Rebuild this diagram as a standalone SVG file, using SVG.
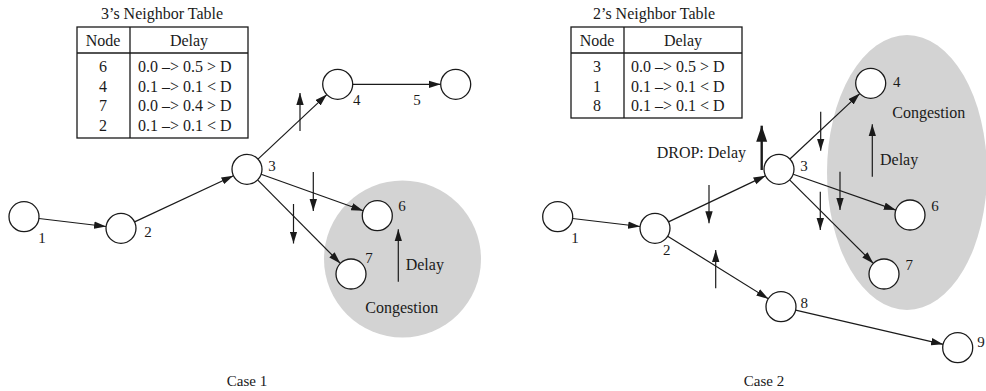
<svg xmlns="http://www.w3.org/2000/svg" width="986" height="391" viewBox="0 0 986 391">
<style>
text{font-family:"Liberation Serif","Times New Roman",serif;font-size:16px;fill:#1a1a1a}
.lbl{font-size:15px}
.mid{text-anchor:middle}
.node{fill:#fff;stroke:#1a1a1a;stroke-width:1.3}
.edge{stroke:#1a1a1a;stroke-width:1.2;fill:none;marker-end:url(#ah)}
.tbl{fill:#fff;stroke:#1a1a1a;stroke-width:1.3}
.tl{stroke:#1a1a1a;stroke-width:1.3}
.zone{fill:#d3d3d3}
.thick{stroke:#1a1a1a;stroke-width:2.4;fill:none;marker-end:url(#ahb)}
</style>
<defs>
<marker id="ah" markerUnits="userSpaceOnUse" markerWidth="13" markerHeight="8" refX="12" refY="4" orient="auto" viewBox="0 0 13 8">
<path d="M0,0.3 L12,4 L0,7.7 z" fill="#1a1a1a"/>
</marker>
<marker id="ahb" markerUnits="userSpaceOnUse" markerWidth="17" markerHeight="12" refX="16" refY="6" orient="auto" viewBox="0 0 17 12">
<path d="M0,0.5 L16,6 L0,11.5 z" fill="#1a1a1a"/>
</marker>
</defs>

<!-- congestion zones -->
<circle class="zone" cx="402.5" cy="259" r="78.5"/>
<ellipse class="zone" cx="907" cy="172.5" rx="80" ry="137.5"/>

<!-- Case 1 table -->
<g id="table1">
<text class="mid" x="162" y="19">3’s Neighbor Table</text>
<rect class="tbl" x="77" y="27" width="171" height="111"/>
<line class="tl" x1="130" y1="27" x2="130" y2="138"/>
<line class="tl" x1="77" y1="53" x2="248" y2="53"/>
<text class="mid" x="103" y="46">Node</text>
<text class="mid" x="189" y="46">Delay</text>
<text class="mid" x="103" y="72">6</text>
<text class="mid" x="103" y="92">4</text>
<text class="mid" x="103" y="111">7</text>
<text class="mid" x="103" y="131">2</text>
<text x="138" y="72">0.0 –&gt; 0.5 &gt; D</text>
<text x="138" y="92">0.1 –&gt; 0.1 &lt; D</text>
<text x="138" y="111">0.0 –&gt; 0.4 &gt; D</text>
<text x="138" y="131">0.1 –&gt; 0.1 &lt; D</text>
</g>

<!-- Case 2 table -->
<g id="table2">
<text class="mid" x="654" y="19">2’s Neighbor Table</text>
<rect class="tbl" x="571" y="27" width="171" height="91"/>
<line class="tl" x1="624" y1="27" x2="624" y2="118"/>
<line class="tl" x1="571" y1="53" x2="742" y2="53"/>
<text class="mid" x="597" y="46">Node</text>
<text class="mid" x="683" y="46">Delay</text>
<text class="mid" x="597" y="72">3</text>
<text class="mid" x="597" y="92">1</text>
<text class="mid" x="597" y="111">8</text>
<text x="631" y="72">0.0 –&gt; 0.5 &gt; D</text>
<text x="631" y="92">0.1 –&gt; 0.1 &lt; D</text>
<text x="631" y="111">0.1 –&gt; 0.1 &lt; D</text>
</g>

<!-- connectors -->
<g id="connectors">
<!-- case 1 -->
<line class="edge" x1="38.9" y1="218.5" x2="106.1" y2="226.5"/>
<line class="edge" x1="134.6" y1="221.9" x2="233.4" y2="175.7"/>
<line class="edge" x1="258" y1="159.1" x2="326.8" y2="94.6"/>
<line class="edge" x1="352.7" y1="84.3" x2="440.7" y2="84.3"/>
<line class="edge" x1="261.1" y1="174.3" x2="363.2" y2="210.7"/>
<line class="edge" x1="257.6" y1="179.9" x2="340.4" y2="263.4"/>
<line class="edge" x1="300" y1="131" x2="300" y2="93"/>
<line class="edge" x1="313.3" y1="172" x2="313.3" y2="211"/>
<line class="edge" x1="293.5" y1="204" x2="293.5" y2="243.5"/>
<line class="edge" x1="398.3" y1="281.7" x2="398.3" y2="229.3"/>
<!-- case 2 -->
<line class="edge" x1="572.6" y1="218.5" x2="640.1" y2="226.5"/>
<line class="edge" x1="668.5" y1="221.9" x2="765.5" y2="175.8"/>
<line class="edge" x1="667.7" y1="236.2" x2="768.3" y2="298.8"/>
<line class="edge" x1="795.6" y1="310.1" x2="943.1" y2="344.3"/>
<line class="edge" x1="789.9" y1="159" x2="859.8" y2="93.6"/>
<line class="edge" x1="793.2" y1="174.2" x2="895.8" y2="210.1"/>
<line class="edge" x1="789.6" y1="179.9" x2="873.4" y2="263.4"/>
<line class="edge" x1="709" y1="185" x2="709" y2="223.3"/>
<line class="edge" x1="715.7" y1="288.3" x2="715.7" y2="250"/>
<line class="edge" x1="820.7" y1="111.7" x2="820.7" y2="150.7"/>
<line class="edge" x1="820.3" y1="191.7" x2="820.3" y2="230"/>
<line class="edge" x1="840" y1="171.7" x2="840" y2="210"/>
<line class="edge" x1="872.3" y1="176.7" x2="872.3" y2="124.3"/>
<line class="thick" x1="761.7" y1="170" x2="761.7" y2="125.7"/>
</g>

<!-- Case 1 nodes -->
<g id="c1n1"><circle class="node" cx="24" cy="216.7" r="15"/><text class="lbl mid" x="42" y="243">1</text></g>
<g id="c1n2"><circle class="node" cx="121" cy="228.3" r="15"/><text class="lbl mid" x="148" y="237">2</text></g>
<g id="c1n3"><circle class="node" cx="247" cy="169.3" r="15"/><text class="lbl mid" x="272" y="171">3</text></g>
<g id="c1n4"><circle class="node" cx="337.7" cy="84.3" r="15"/><text class="lbl mid" x="356.7" y="105">4</text></g>
<g id="c1n5"><circle class="node" cx="455.7" cy="84.3" r="15"/><text class="lbl mid" x="417" y="105">5</text></g>
<g id="c1n6"><circle class="node" cx="377.3" cy="215.7" r="15"/><text class="lbl mid" x="402" y="210.7">6</text></g>
<g id="c1n7"><circle class="node" cx="351" cy="274" r="15"/><text class="lbl mid" x="369" y="263">7</text></g>

<!-- Case 2 nodes -->
<g id="c2n1"><circle class="node" cx="557.7" cy="216.7" r="15"/><text class="lbl mid" x="575" y="243">1</text></g>
<g id="c2n2"><circle class="node" cx="655" cy="228.3" r="15"/><text class="lbl mid" x="666.7" y="255">2</text></g>
<g id="c2n3"><circle class="node" cx="779" cy="169.3" r="15"/><text class="lbl mid" x="804" y="171">3</text></g>
<g id="c2n4"><circle class="node" cx="870.7" cy="83.3" r="15"/><text class="lbl mid" x="896.7" y="87">4</text></g>
<g id="c2n6"><circle class="node" cx="910" cy="215" r="15"/><text class="lbl mid" x="935" y="210.7">6</text></g>
<g id="c2n7"><circle class="node" cx="884" cy="274" r="15"/><text class="lbl mid" x="909.3" y="270">7</text></g>
<g id="c2n8"><circle class="node" cx="781" cy="306.7" r="15"/><text class="lbl mid" x="804.3" y="308">8</text></g>
<g id="c2n9"><circle class="node" cx="957.7" cy="347.7" r="15"/><text class="lbl mid" x="981" y="346.7">9</text></g>

<!-- annotations -->
<text x="405.7" y="270">Delay</text>
<text class="mid" x="401.7" y="313">Congestion</text>
<text x="880" y="165">Delay</text>
<text class="mid" x="928.7" y="118.3">Congestion</text>
<text x="656.7" y="157.7">DROP: Delay</text>
<text class="lbl mid" x="247" y="386">Case 1</text>
<text class="lbl mid" x="764" y="386">Case 2</text>
</svg>
